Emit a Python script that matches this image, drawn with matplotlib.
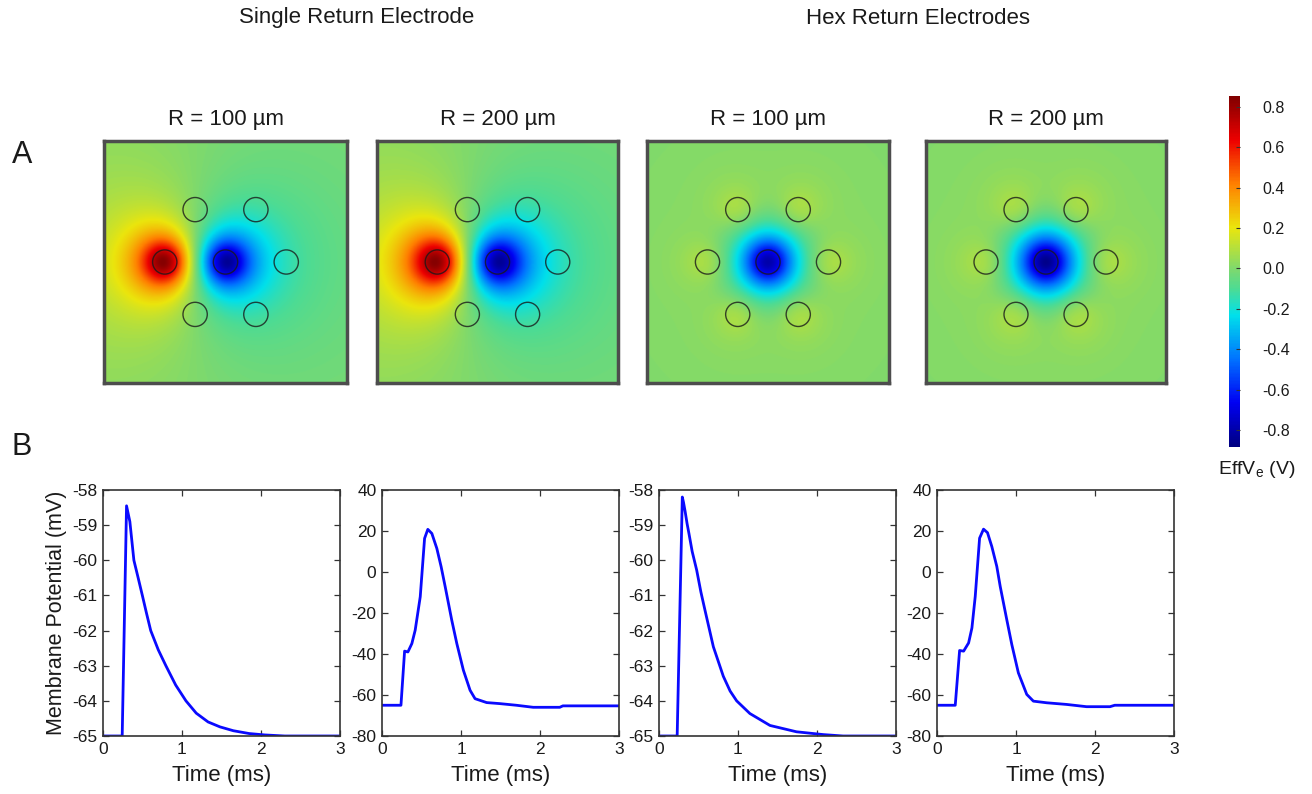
import numpy as np
import matplotlib
matplotlib.use("Agg")
import matplotlib.pyplot as plt
from matplotlib.colors import LinearSegmentedColormap
from matplotlib.patches import Circle

plt.rcParams['font.family'] = ['Liberation Sans', 'DejaVu Sans']
plt.rcParams['mathtext.fontset'] = 'custom'
plt.rcParams['mathtext.rm'] = 'Liberation Sans'
plt.rcParams['mathtext.it'] = 'Liberation Sans'
plt.rcParams['axes.unicode_minus'] = False

# ---------------- data ----------------
group_titles = ["Single Return Electrode", "Hex Return Electrodes"]
panel_titles = ["R = 100 µm", "R = 200 µm", "R = 100 µm", "R = 200 µm"]

# electrode layout (normalised map units, map spans -1..1)
active_xy = (0.0, 0.0)
hex_x = [0.5, 0.25, -0.25, -0.5, -0.25, 0.25]
hex_y = [0.0, 0.433, 0.433, 0.0, -0.433, -0.433]
single_return_xy = (-0.5, 0.0)
electrode_radius = 0.10
# per-panel: return mode, source height, peak |EffVe| (V)
map_mode = ["single", "single", "hex", "hex"]
map_height = [0.12, 0.14, 0.12, 0.14]
map_peak = [0.84, 0.84, 0.80, 0.86]

cbar_min, cbar_max = -0.884, 0.854
cbar_ticks = [-0.8, -0.6, -0.4, -0.2, 0.0, 0.2, 0.4, 0.6, 0.8]
cbar_label = r"EffV$_{\mathrm{e}}$ (V)"

# membrane potential traces (time ms, mV)
t1 = [0, 0.243, 0.298, 0.34, 0.391, 0.445, 0.498, 0.55, 0.604, 0.70, 0.796, 0.92,
      1.05, 1.18, 1.33, 1.48, 1.65, 1.85, 2.05, 2.3, 3.0]
v1 = [-65, -65, -58.45, -58.9, -60.0, -60.5, -61.0, -61.5, -62.0, -62.55, -63.0, -63.55,
      -64.0, -64.35, -64.6, -64.74, -64.85, -64.93, -64.97, -65.0, -65.0]

t2 = [0, 0.24, 0.286, 0.328, 0.378, 0.42, 0.484, 0.539, 0.58, 0.631, 0.694, 0.749,
      0.80, 0.883, 0.947, 1.03, 1.115, 1.178, 1.325, 1.49, 1.70, 1.914, 2.25, 2.29, 3.0]
v2 = [-65, -65, -38.6, -39.0, -34.9, -28.4, -12.1, 16.4, 20.8, 18.8, 11.5, 2.5,
      -7.2, -23.5, -34.9, -47.9, -57.7, -61.8, -63.7, -64.2, -65.0, -66.0, -66.0, -65.3, -65.3]

t3 = [0, 0.23, 0.295, 0.31, 0.33, 0.355, 0.38, 0.42, 0.477, 0.53, 0.582, 0.688, 0.814, 0.90,
      0.983, 1.15, 1.405, 1.74, 2.08, 2.33, 3.0]
v3 = [-65, -65, -58.2, -58.35, -58.6, -58.95, -59.25, -59.75, -60.28, -60.9, -61.42, -62.46,
      -63.3, -63.72, -64.0, -64.36, -64.7, -64.88, -64.96, -65.0, -65.0]

t4 = [0, 0.231, 0.286, 0.337, 0.40, 0.442, 0.484, 0.539, 0.589, 0.639, 0.694, 0.757,
      0.80, 0.883, 0.947, 1.03, 1.136, 1.22, 1.39, 1.64, 1.893, 2.19, 2.25, 3.0]
v4 = [-65, -65, -38.3, -38.6, -34.6, -27.3, -11.9, 16.5, 20.9, 19.2, 12.4, 2.7,
      -7.0, -23.2, -35.4, -49.2, -59.7, -63.0, -63.8, -64.6, -65.7, -65.7, -65.0, -65.0]

traces = [(t1, v1), (t2, v2), (t3, v3), (t4, v4)]
ylims = [(-65, -58), (-80, 40), (-65, -58), (-80, 40)]
yticks = [list(range(-65, -57)), list(range(-80, 41, 20)),
          list(range(-65, -57)), list(range(-80, 41, 20))]

# ---------------- colormap ----------------
cmap = LinearSegmentedColormap.from_list("muted_jet", [
    (0.0, (0.0, 0.0, 0.50)),
    (0.125, (0.0, 0.0, 0.95)),
    (0.25, (0.0, 0.45, 1.0)),
    (0.375, (0.0, 0.88, 0.92)),
    (0.45, (0.30, 0.86, 0.58)),
    (0.5, (0.47, 0.85, 0.45)),
    (0.625, (0.92, 0.90, 0.05)),
    (0.75, (1.0, 0.50, 0.0)),
    (0.875, (0.93, 0.0, 0.0)),
    (1.0, (0.50, 0.0, 0.0)),
])


def disk_potential(X, Y, cx, cy, a, z):
    r = np.hypot(X - cx, Y - cy)
    s = np.sqrt((r - a) ** 2 + z ** 2) + np.sqrt((r + a) ** 2 + z ** 2)
    return (2 / np.pi) * np.arcsin(np.clip(2 * a / s, 0, 1))


g = np.linspace(-1, 1, 400)
X, Y = np.meshgrid(g, g)

fig = plt.figure(figsize=(13.12, 7.94), dpi=100)
W, H = 1312, 794


def fx(px):
    return px / W


def fy(py):
    return 1 - py / H


map_boxes = [(104, 347), (377, 618), (647, 889), (926, 1166)]
im = None
for i, (x0, x1) in enumerate(map_boxes):
    ax = fig.add_axes([fx(x0), fy(383), fx(x1 - x0), (383 - 141) / H])
    z = map_height[i]
    act = disk_potential(X, Y, active_xy[0], active_xy[1], electrode_radius, z)
    if map_mode[i] == "single":
        ret = disk_potential(X, Y, single_return_xy[0], single_return_xy[1], electrode_radius, z)
        F = ret - act
        F = F / np.abs(F).max() * map_peak[i]
    else:
        ret = sum(disk_potential(X, Y, hx, hy, electrode_radius, z) for hx, hy in zip(hex_x, hex_y)) / 6
        F = ret - act
        F = F / np.abs(F.min()) * map_peak[i]
    im = ax.imshow(F, origin="lower", extent=[-1, 1, -1, 1], cmap=cmap,
                   vmin=cbar_min, vmax=cbar_max, interpolation="bilinear", aspect="auto")
    for cx, cy in [active_xy] + list(zip(hex_x, hex_y)):
        ax.add_patch(Circle((cx, cy), electrode_radius, fill=False,
                            edgecolor="#1a1a1a", lw=1.0, alpha=0.8))
    ax.set_xticks([])
    ax.set_yticks([])
    for sp in ax.spines.values():
        sp.set_color("#4d4d4d")
        sp.set_linewidth(2.5)
    fig.text(fx((x0 + x1) / 2), fy(119), panel_titles[i], ha="center", va="center",
             fontsize=16, color="#1a1a1a")

fig.text(fx(357), fy(18), group_titles[0], ha="center", va="center", fontsize=16, color="#1a1a1a")
fig.text(fx(918), fy(18), group_titles[1], ha="center", va="center", fontsize=16, color="#1a1a1a")
fig.text(fx(22), fy(155), "A", ha="center", va="center", fontsize=22, color="#1a1a1a")
fig.text(fx(22), fy(447), "B", ha="center", va="center", fontsize=22, color="#1a1a1a")

# colorbar
cax = fig.add_axes([fx(1229), fy(447), fx(11), (447 - 96) / H])
cb = fig.colorbar(im, cax=cax, ticks=cbar_ticks)
cb.outline.set_visible(False)
cax.tick_params(direction="in", length=3, width=0.8, color="#333333", labelsize=11.5,
                pad=16, labelcolor="#1a1a1a")
cax.set_yticklabels([f"{t:.1f}" for t in cbar_ticks])
fig.text(fx(1257), fy(470), cbar_label, ha="center", va="center", fontsize=14, color="#1a1a1a")

# traces
trace_boxes = [(103, 340), (382, 619), (659, 896), (937, 1174)]
for i, (x0, x1) in enumerate(trace_boxes):
    ax = fig.add_axes([fx(x0), fy(736), fx(x1 - x0), (736 - 490) / H])
    t, v = traces[i]
    ax.plot(t, v, color="#0a0aff", lw=2.0)
    ax.set_xlim(0, 3)
    ax.set_ylim(*ylims[i])
    ax.set_xticks([0, 1, 2, 3])
    ax.set_yticks(yticks[i])
    ax.tick_params(direction="in", length=4, width=0.9, top=True, right=True,
                   labelsize=12.5, pad=4, colors="#333333", labelcolor="#1a1a1a")
    for sp in ax.spines.values():
        sp.set_color("#333333")
        sp.set_linewidth(1.2)
    ax.set_xlabel("Time (ms)", fontsize=16, color="#1a1a1a", labelpad=6)
    if i == 0:
        ax.set_ylabel("Membrane Potential (mV)", fontsize=15.5, color="#1a1a1a", labelpad=4)

fig.savefig("out.png", dpi=100, facecolor="white")
